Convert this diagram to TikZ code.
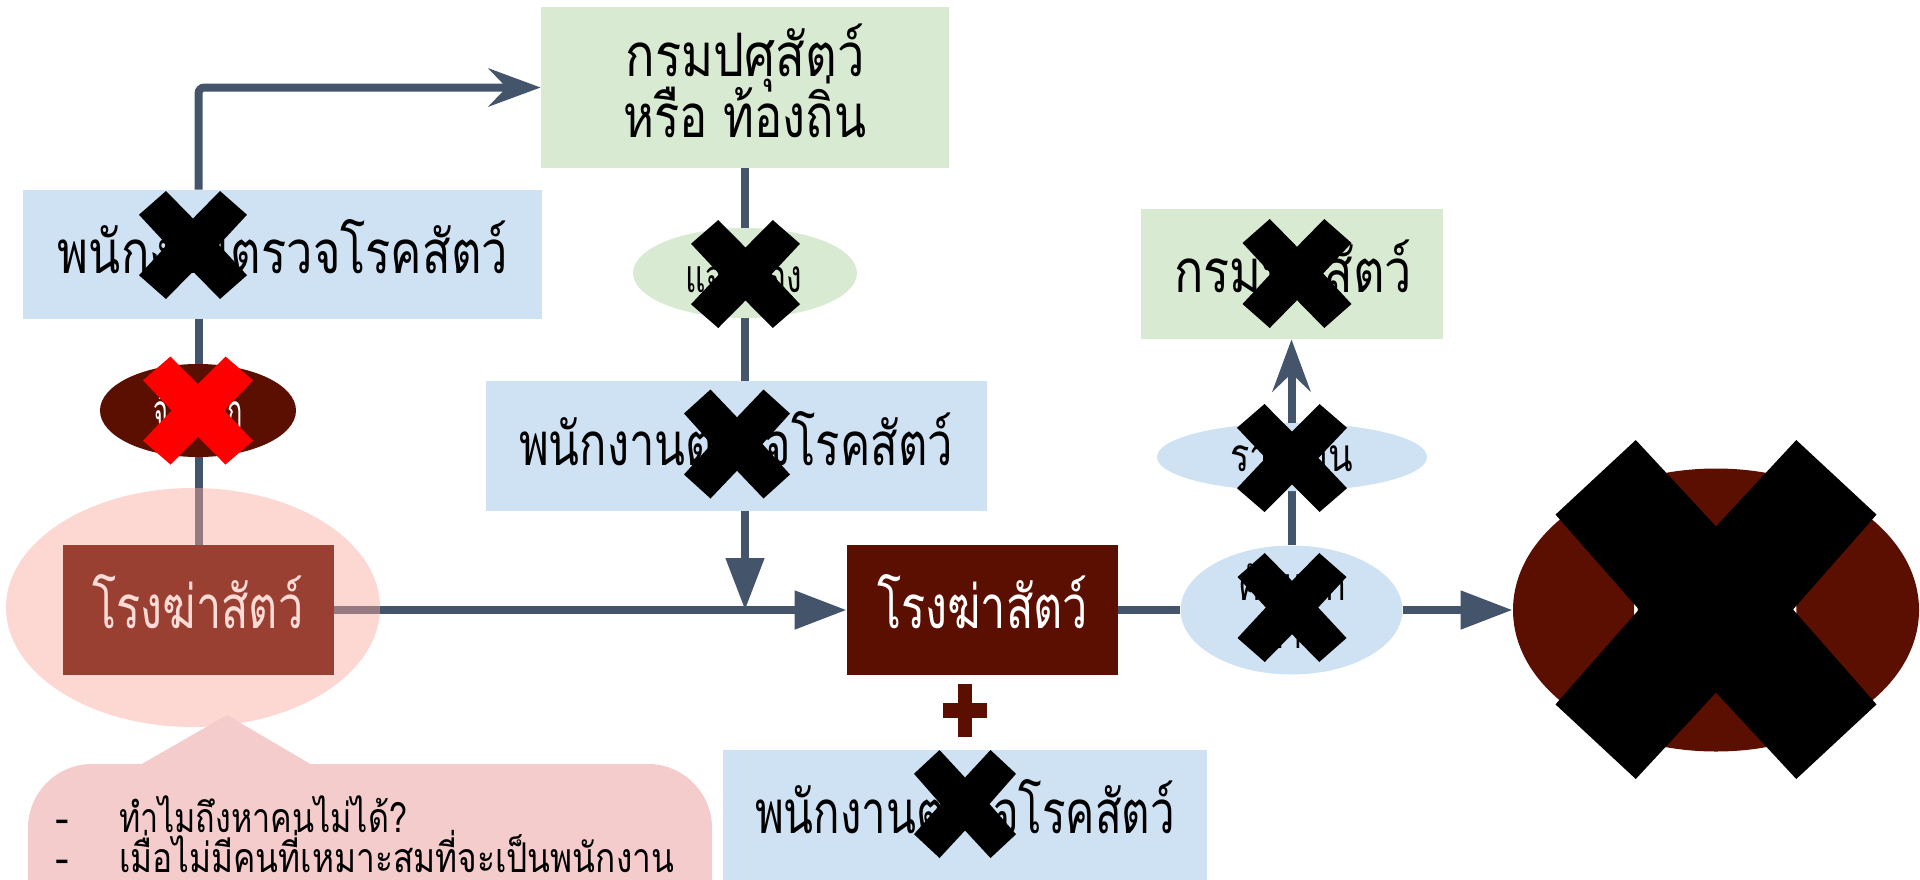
\documentclass[tikz,border=0pt]{standalone}
\usepackage{fontspec}
\usepackage{graphicx}
\newfontfamily\thai[Script=Thai]{Loma}
\usetikzlibrary{shapes.geometric,arrows.meta}
\pgfdeclarelayer{bg}
\pgfdeclarelayer{mid}
\pgfsetlayers{bg,mid,main}
\definecolor{lnc}{HTML}{44546A}
\definecolor{grn}{HTML}{D9EAD3}
\definecolor{blu}{HTML}{CFE2F3}
\definecolor{drd}{HTML}{5B0F00}
\definecolor{lbx}{HTML}{9A4033}
\definecolor{pnk}{HTML}{FBA99E}
\definecolor{cal}{HTML}{F4CCCC}
\definecolor{ltx}{HTML}{FCDAD5}
\newcommand{\T}[2]{\resizebox{#1pt}{\height}{#2}}
\newcommand{\xmk}[5]{\fill[#5, shift={(#1,#2)}, xscale=#3, yscale=#4]
  (-1,-0.56) -- (-0.5,-1) -- (0,-0.49) -- (0.5,-1) -- (1,-0.56) -- (0.48,0) --
  (1,0.56) -- (0.5,1) -- (0,0.49) -- (-0.5,1) -- (-1,0.56) -- (-0.48,0) -- cycle;}
\tikzset{
  box/.style={rectangle, inner sep=0pt, draw=none},
  ell/.style={ellipse, inner sep=0pt, draw=none},
  txt/.style={inner sep=0pt, anchor=base, font=\thai\fontsize{30}{36}\selectfont},
  stxt/.style={inner sep=0pt, anchor=base, font=\thai\fontsize{23}{28}\selectfont},
  ctxt/.style={inner sep=0pt, anchor=base west, font=\thai\fontsize{20.5}{24}\selectfont},
  conn/.style={draw=lnc, line width=4pt},
  tri/.style={-{Triangle[length=26pt,width=18.5pt]}},
  stl/.style={-{Stealth[length=26pt,width=19pt,inset=9pt]}}
}
\begin{document}
\begin{tikzpicture}[x=0.5pt,y=-0.5pt]
\useasboundingbox (0,0) rectangle (1920,879);
% boxes
\node[box, fill=grn, minimum width=204pt, minimum height=80.5pt] (g1) at (745,87.5) {};
\node[box, fill=blu, minimum width=259.5pt, minimum height=64.5pt] (b1) at (282.5,254.5) {};
\node[ell, fill=drd, minimum width=98pt, minimum height=46.5pt] (re) at (198,410.5) {};
\node[ell, fill=grn, minimum width=112pt, minimum height=45pt] (ge) at (745,273) {};
\node[box, fill=blu, minimum width=250.5pt, minimum height=65pt] (b2) at (736.5,446) {};
\begin{pgfonlayer}{mid}
\node[ell, fill=pnk, fill opacity=0.45, minimum width=187pt, minimum height=119.5pt] (pk) at (193,607.5) {};
\end{pgfonlayer}
\node[box, fill=lbx, minimum width=135.5pt, minimum height=65pt] (lb) at (198.5,610) {};
\node[box, fill=drd, minimum width=135.5pt, minimum height=65pt] (rb) at (982.5,610) {};
\node[box, fill=blu, minimum width=242pt, minimum height=65pt] (b3) at (965,815) {};
\node[box, fill=grn, minimum width=151pt, minimum height=65pt] (g3) at (1292,274) {};
\node[ell, fill=blu, minimum width=135pt, minimum height=34pt] (ry) at (1292,457) {};
\node[ell, fill=blu, minimum width=111pt, minimum height=64.5pt] (bc) at (1291.5,610) {};
\node[ell, fill=drd, minimum width=203pt, minimum height=141.5pt] (be) at (1716,610) {};
\coordinate (j) at (g1.south |- lb.east);
% connectors
\begin{pgfonlayer}{bg}
\draw[conn, stl, rounded corners=3pt] (lb.north |- b1.north) |- (g1.west);
\draw[conn] (lb.north |- b1.south) -- (lb.north);
\draw[conn, tri] (lb.east) -- (rb.west);
\draw[conn, tri] (g1.south) -- (j);
\draw[conn] (rb.east) -- (bc.west);
\draw[conn, tri] (bc.east) -- (be.west);
\draw[conn, stl] (bc.north) -- (bc.north |- g3.south);
\end{pgfonlayer}
% callout
\fill[cal, rounded corners=32pt] (28,764) rectangle (712,960);
\fill[cal] (140,765) -- (227,715) -- (312,765) -- cycle;
% plus
\fill[drd] (958,684) rectangle (972,737);
\fill[drd] (943,703) rectangle (987,718);
% texts
\node[txt] (g1a) at (745,76) {\T{119.5}{กรมปศุสัตว์}};
\node[txt] (g1b) at (745,137) {\T{121.5}{หรือ ท้องถิ่น}};
\node[txt] (b1t) at (283,273) {\T{225}{พนักงานตรวจโรคสัตว์}};
\node[stxt, text=white] (ret) at (198,427) {\T{44.5}{จ้างนอก}};
\node[stxt] (get) at (743.5,292) {\T{58.5}{แจ้งเรื่อง}};
\node[txt] (b2t) at (736,465) {\T{217}{พนักงานตรวจโรคสัตว์}};
\node[txt, text=ltx] (lbt) at (198,628) {\T{105.5}{โรงฆ่าสัตว์}};
\node[txt, text=white] (rbt) at (982.5,628) {\T{105.5}{โรงฆ่าสัตว์}};
\node[txt] (b3t) at (965,833) {\T{210}{พนักงานตรวจโรคสัตว์}};
\node[txt] (g3t) at (1293,292) {\T{119}{กรมปศุสัตว์}};
\node[stxt] (ryt) at (1291.5,471) {\T{61.5}{รายงาน}};
\node[stxt] (bct1) at (1292,600) {\T{54}{คัดแยก}};
\node[stxt] (bct2) at (1292,648) {\T{30}{ซาก}};
\node[stxt, text=white] (bet) at (1716,622) {\T{85}{ผู้บริโภค}};
\node[ctxt] (c1) at (55,832) {-\hspace{25pt}\T{144}{ทำไมถึงหาคนไม่ได้?}};
\node[ctxt] (c2) at (55,872) {-\hspace{25pt}\T{277.5}{เมื่อไม่มีคนที่เหมาะสมที่จะเป็นพนักงาน}};
% x marks
\xmk{193}{245}{54}{54}{black}
\xmk{198}{410.5}{55}{54}{red}
\xmk{745.5}{274}{54.5}{54}{black}
\xmk{737}{444}{53}{54.5}{black}
\xmk{1297}{273.5}{54.5}{54.5}{black}
\xmk{1292}{458}{55}{54}{black}
\xmk{1292}{607.5}{54.5}{54.5}{black}
\xmk{965}{804}{51}{54}{black}
\xmk{1716}{609.5}{160.5}{169.5}{black}
\end{tikzpicture}
\end{document}
